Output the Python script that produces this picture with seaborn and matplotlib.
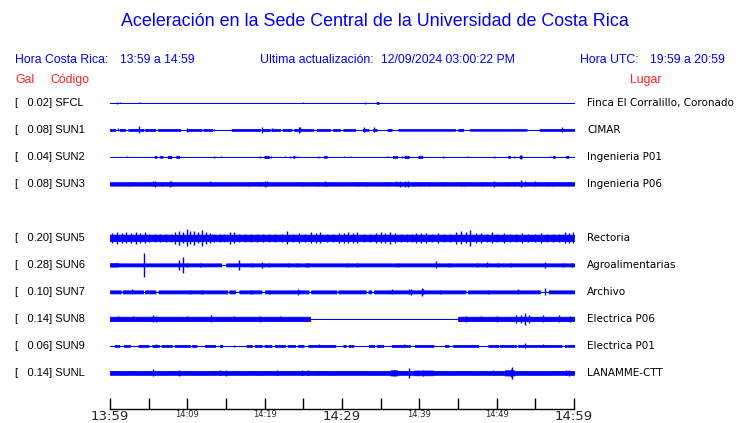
import numpy as np
import matplotlib
matplotlib.use("Agg")
import matplotlib.pyplot as plt
import seaborn as sns

# estaciones (de arriba a abajo, la fila 4 va vacia)
codes = ["SFCL", "SUN1", "SUN2", "SUN3", None, "SUN5", "SUN6", "SUN7", "SUN8", "SUN9", "SUNL"]
peaks = [0.02, 0.08, 0.04, 0.08, None, 0.20, 0.28, 0.10, 0.14, 0.06, 0.14]
places = ["Finca El Corralillo, Coronado", "CIMAR", "Ingenieria P01", "Ingenieria P06", None,
          "Rectoria", "Agroalimentarias", "Archivo", "Electrica P06", "Electrica P01", "LANAMME-CTT"]

# nivel de fondo de cada traza (Gal)
base = [0.0, 0.0, 0.0, 0.04, None, 0.075, 0.035, 0.035, 0.05, 0.0, 0.045]

# tramos (min inicio, min fin, amplitud Gal); amplitud 0 = tramo quieto
sfcl_seg = [(34.5, 34.7, 0.02)]
sun1_seg = [(0, 0.65, 0.022), (1.3, 1.94, 0.022), (2.37, 4.31, 0.022), (4.53, 5.82, 0.022),
            (6.25, 9.05, 0.022), (10.0, 11.85, 0.022), (12.07, 13.15, 0.022), (15.73, 19.4, 0.022),
            (19.74, 20.69, 0.022), (20.9, 21.98, 0.022), (22.33, 23.49, 0.022), (23.83, 26.29, 0.022),
            (26.72, 28.45, 0.022), (28.88, 29.74, 0.022), (30.17, 31.68, 0.022), (32.67, 33.4, 0.022),
            (34.05, 34.48, 0.022), (35.86, 36.42, 0.022), (37.28, 44.6, 0.018), (45.04, 45.69, 0.022),
            (46.55, 53.9, 0.018), (55.6, 60, 0.022)]
sun2_seg = [(5.8, 6.0, 0.02), (6.5, 6.8, 0.02), (7.5, 7.9, 0.025), (8.6, 8.9, 0.025),
            (20.0, 20.5, 0.025), (23.7, 23.9, 0.02), (27.7, 28.0, 0.02), (36.6, 37.1, 0.02),
            (38.1, 38.6, 0.025), (39.9, 40.4, 0.025), (51.5, 51.7, 0.02), (53.0, 53.2, 0.03),
            (57.3, 57.5, 0.02), (59.0, 59.3, 0.02)]
sun3_seg = []
sun5_seg = []
sun6_seg = [(0.0, 1.0, 0.04), (14.4, 15.0, 0.0)]
sun7_seg = [(1.4, 1.6, 0.0), (4.3, 4.5, 0.0), (5.9, 6.25, 0.0), (15.2, 15.4, 0.0), (16.2, 16.7, 0.0),
            (19.6, 20.0, 0.0), (25.7, 26.0, 0.0), (29.3, 29.5, 0.0), (33.1, 33.4, 0.0),
            (33.8, 34.1, 0.0), (46.0, 46.3, 0.0), (55.6, 56.7, 0.0)]
sun8_seg = [(25.9, 45.0, 0.0)]
sun9_seg = [(0.65, 1.16, 0.022), (1.81, 2.59, 0.022), (3.66, 4.96, 0.022), (5.47, 6.34, 0.022),
            (6.68, 7.97, 0.022), (8.4, 10.34, 0.022), (10.65, 11.2, 0.022), (12.28, 13.58, 0.022),
            (14.22, 14.52, 0.022), (17.67, 18.32, 0.022), (18.75, 19.61, 0.022), (19.96, 20.9, 0.022),
            (21.33, 22.63, 0.022), (22.97, 23.92, 0.022), (24.35, 25.0, 0.022), (25.64, 29.1, 0.022),
            (30.17, 30.47, 0.022), (30.9, 31.46, 0.022), (33.49, 34.18, 0.022), (34.48, 35.34, 0.022),
            (36.42, 38.79, 0.022), (39.44, 41.81, 0.022), (43.32, 43.75, 0.022), (44.39, 47.63, 0.022),
            (48.92, 50.21, 0.022), (50.43, 52.45, 0.022), (52.8, 58.4, 0.022), (58.82, 60, 0.022)]
sunl_seg = [(36.3, 37.1, 0.06), (39.4, 41.8, 0.055), (51.1, 52.2, 0.06)]

# picos sueltos (min, amplitud Gal)
sfcl_spk = [(0.95, 0.015), (1.3, 0.012), (3.9, 0.01), (25.0, 0.01), (33.0, 0.015), (34.6, 0.02)]
sun1_spk = [(1.0, 0.035), (3.8, 0.08), (9.9, 0.04), (13.5, 0.03), (19.7, 0.07), (21.0, 0.035),
            (24.4, 0.07), (24.6, 0.06), (29.0, 0.03), (32.8, 0.06), (34.1, 0.06), (44.0, 0.03),
            (58.5, 0.06)]
sun2_spk = [(2.2, 0.012), (13.4, 0.02), (14.4, 0.012), (19.4, 0.015), (20.8, 0.015), (22.6, 0.012),
            (23.3, 0.015), (24.2, 0.012), (26.9, 0.02), (30.3, 0.012), (31.0, 0.012), (36.0, 0.012),
            (37.8, 0.02), (43.0, 0.015), (46.2, 0.012), (49.6, 0.025), (52.3, 0.02), (53.1, 0.04),
            (56.9, 0.012)]
sun3_spk = [(2.5, 0.05), (5.6, 0.06), (5.8, 0.07), (6.7, 0.05), (7.7, 0.07), (7.9, 0.06), (12.9, 0.06),
            (13.3, 0.055), (17.9, 0.05), (19.4, 0.05), (20.1, 0.065), (20.3, 0.06), (24.9, 0.05),
            (26.9, 0.055), (27.8, 0.06), (28.0, 0.055), (32.1, 0.05), (33.2, 0.05), (36.0, 0.05),
            (37.0, 0.06), (37.5, 0.065), (38.2, 0.07), (38.5, 0.065), (39.3, 0.05), (40.1, 0.05),
            (41.2, 0.05), (43.0, 0.05), (45.4, 0.05), (45.8, 0.05), (48.1, 0.05), (49.6, 0.07),
            (51.5, 0.05), (52.3, 0.05), (53.1, 0.08), (53.7, 0.06), (55.0, 0.06), (56.5, 0.05),
            (57.1, 0.05), (59.2, 0.05)]
sun5_spk = [(0.3, 0.12), (0.9, 0.14), (1.5, 0.11), (2.1, 0.13), (2.7, 0.12), (3.3, 0.14), (3.9, 0.11),
            (4.5, 0.13), (5.1, 0.10), (5.8, 0.09), (6.5, 0.1), (7.2, 0.09), (7.9, 0.1), (8.4, 0.14),
            (8.9, 0.17), (9.4, 0.13), (9.9, 0.2), (10.4, 0.15), (10.9, 0.17), (11.4, 0.13),
            (11.9, 0.18), (12.4, 0.14), (12.9, 0.12), (13.5, 0.1), (14.2, 0.09), (14.8, 0.1),
            (15.5, 0.14), (16.0, 0.13), (16.7, 0.1), (17.4, 0.09), (18.2, 0.1), (19.0, 0.09),
            (19.8, 0.1), (20.6, 0.09), (21.4, 0.1), (22.2, 0.09), (22.9, 0.15), (23.6, 0.1),
            (24.4, 0.11), (25.2, 0.1), (26.0, 0.13), (26.6, 0.12), (27.2, 0.13), (28.0, 0.1),
            (28.8, 0.1), (29.6, 0.12), (30.2, 0.11), (30.8, 0.13), (31.4, 0.12), (32.0, 0.13),
            (32.8, 0.1), (33.6, 0.1), (34.4, 0.12), (35.0, 0.13), (35.6, 0.12), (36.2, 0.14),
            (36.9, 0.12), (37.6, 0.09), (38.4, 0.085), (39.0, 0.09), (39.6, 0.12), (40.2, 0.11),
            (40.9, 0.12), (41.6, 0.1), (42.4, 0.11), (43.2, 0.1), (44.0, 0.1), (44.8, 0.14),
            (45.4, 0.15), (46.0, 0.13), (46.6, 0.18), (47.3, 0.12), (48.0, 0.11), (48.7, 0.1),
            (49.4, 0.13), (50.1, 0.1), (50.9, 0.11), (51.7, 0.1), (52.5, 0.1), (53.3, 0.11),
            (54.1, 0.1), (54.9, 0.1), (55.7, 0.11), (56.5, 0.1), (57.3, 0.1), (58.1, 0.1),
            (58.9, 0.13), (59.4, 0.12), (59.9, 0.13)]
sun6_spk = [(4.4, 0.28), (8.9, 0.12), (9.5, 0.18), (10.0, 0.05), (11.6, 0.04), (16.7, 0.12),
            (18.4, 0.05), (19.7, 0.07), (20.5, 0.05), (23.0, 0.05), (24.2, 0.05), (25.4, 0.05),
            (25.6, 0.05), (30.7, 0.05), (31.9, 0.05), (37.3, 0.05), (42.1, 0.08), (43.9, 0.05),
            (47.4, 0.05), (48.8, 0.06), (50.2, 0.04), (51.9, 0.04), (56.2, 0.07), (58.6, 0.05),
            (59.7, 0.05)]
sun7_spk = [(2.9, 0.06), (10.4, 0.05), (11.9, 0.05), (18.2, 0.05), (20.5, 0.05), (24.3, 0.07),
            (36.5, 0.06), (38.7, 0.06), (38.9, 0.07), (40.3, 0.1), (40.5, 0.06), (42.7, 0.05),
            (48.9, 0.045), (52.8, 0.06), (56.3, 0.08)]
sun8_spk = [(1.0, 0.06), (3.0, 0.06), (5.6, 0.08), (6.0, 0.07), (9.9, 0.06), (13.1, 0.08), (16.0, 0.06),
            (19.4, 0.07), (22.0, 0.06), (46.0, 0.07), (48.0, 0.06), (50.0, 0.07), (52.5, 0.1),
            (53.2, 0.09), (53.7, 0.14), (54.2, 0.1), (56.0, 0.08), (58.0, 0.08), (59.5, 0.07)]
sun9_spk = [(6.0, 0.035), (16.0, 0.03), (27.0, 0.035), (38.0, 0.035), (53.7, 0.06), (56.0, 0.035)]
sunl_spk = [(1.85, 0.05), (3.9, 0.055), (4.6, 0.055), (5.6, 0.08), (7.1, 0.05), (8.9, 0.07),
            (11.55, 0.05), (12.3, 0.05), (13.4, 0.05), (14.2, 0.06), (15.0, 0.07), (17.2, 0.05),
            (19.0, 0.055), (19.6, 0.055), (21.6, 0.06), (24.8, 0.06), (25.6, 0.06), (26.9, 0.05),
            (28.9, 0.05), (34.2, 0.05), (35.3, 0.05), (36.7, 0.07), (38.7, 0.12), (40.5, 0.07),
            (44.4, 0.05), (47.2, 0.05), (49.0, 0.055), (49.5, 0.06), (50.2, 0.055), (51.8, 0.1),
            (52.0, 0.14), (54.3, 0.05), (55.4, 0.05), (56.6, 0.05), (59.0, 0.06), (59.3, 0.07)]

segments = [sfcl_seg, sun1_seg, sun2_seg, sun3_seg, None, sun5_seg, sun6_seg, sun7_seg,
            sun8_seg, sun9_seg, sunl_seg]
spikes = [sfcl_spk, sun1_spk, sun2_spk, sun3_spk, None, sun5_spk, sun6_spk, sun7_spk,
          sun8_spk, sun9_spk, sunl_spk]

tick_minutes = list(range(0, 61, 5))
tick_labels = ["13:59", "", "14:09", "", "14:19", "", "14:29", "", "14:39", "", "14:49", "", "14:59"]

BLUE = "#0000ff"
RED = "#ff2020"
W, H = 740, 423
ROW = 0.628  # separacion vertical entre trazas en Gal

sns.set_theme(style="white")
plt.rcParams["font.family"] = ["DejaVu Sans"]

fig = plt.figure(figsize=(W / 100, H / 100), dpi=100)
ax = fig.add_axes([110 / W, 1 - 409 / H, 464 / W, 319 / H])

t = np.arange(0, 60.001, 0.05)
tr = ax.get_yaxis_transform()
for i, code in enumerate(codes):
    if code is None:
        continue
    y0 = -i * ROW
    env = np.full(t.shape, float(base[i]))
    for a, b, amp in segments[i]:
        m = (t >= a) & (t <= b)
        if amp == 0:
            env[m] = 0.0
        else:
            env[m] = np.maximum(env[m], amp)
    ax.fill_between(t, y0 - env, y0 + env, step="mid", color=BLUE, lw=0.6)
    st = [s[0] for s in spikes[i]]
    sa = np.array([s[1] for s in spikes[i]])
    ax.vlines(st, y0 - sa, y0 + sa, color=BLUE, lw=1.0)

    ax.text(-0.2047, y0, f"[   {peaks[i]:.2f}] {code}", transform=tr, ha="left", va="center",
            fontsize=8, family="Liberation Sans", color="black")
    ax.text(1.028, y0, places[i], transform=tr, ha="left", va="center",
            fontsize=7.5, color="black")

ax.set_xlim(0, 60)
ax.set_ylim(-7.12, 0.30)
sns.despine(ax=ax, left=True, top=True, right=True)
ax.spines["bottom"].set_color("black")
ax.spines["bottom"].set_linewidth(1.0)
ax.set_yticks([])
ax.set_xticks(tick_minutes)
ax.set_xticklabels(tick_labels)
ax.tick_params(axis="x", bottom=True, direction="in", length=8, width=1, color="black", pad=1)
for lab in ax.get_xticklabels():
    if lab.get_text() in ("13:59", "14:29", "14:59"):
        lab.set_fontsize(9.5)
    else:
        lab.set_fontsize(6)
ax.set_facecolor("white")
ax.grid(False)


def ftext(x, y, s, **kw):
    fig.text(x / W, 1 - y / H, s, va="center", family="Liberation Sans", **kw)


ftext(375, 22, "Aceleración en la Sede Central de la Universidad de Costa Rica",
      ha="center", fontsize=12.9, color=BLUE)
ftext(15, 60, "Hora Costa Rica:", ha="left", fontsize=8.8, color=BLUE)
ftext(120, 60, "13:59 a 14:59", ha="left", fontsize=8.8, color=BLUE)
ftext(260, 60, "Ultima actualización:", ha="left", fontsize=8.8, color=BLUE)
ftext(381, 60, "12/09/2024 03:00:22 PM", ha="left", fontsize=8.8, color=BLUE)
ftext(580, 60, "Hora UTC:", ha="left", fontsize=8.8, color=BLUE)
ftext(650, 60, "19:59 a 20:59", ha="left", fontsize=8.8, color=BLUE)
ftext(15, 80, "Gal", ha="left", fontsize=8.8, color=RED)
ftext(50, 80, "Código", ha="left", fontsize=8.8, color=RED)
ftext(630, 80, "Lugar", ha="left", fontsize=8.8, color=RED)

fig.savefig("out.png", dpi=100, facecolor="white")
